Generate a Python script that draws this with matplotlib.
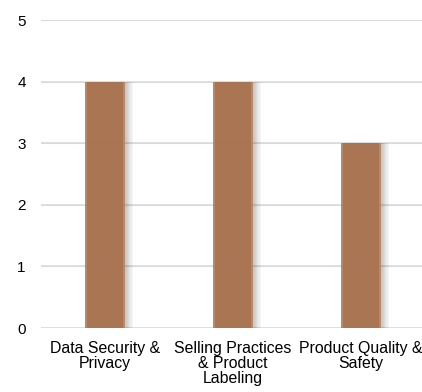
import matplotlib
matplotlib.use("Agg")
import matplotlib.pyplot as plt
import numpy as np

categories = ["Data Security &\nPrivacy", "Selling Practices\n& Product\nLabeling", "Product Quality &\nSafety"]
values = [4, 4, 3]
yticks = [0, 1, 2, 3, 4, 5]

plt.rcParams['font.family'] = ['Liberation Sans', 'DejaVu Sans']

fig = plt.figure(figsize=(4.22, 3.92), dpi=100)
ax = fig.add_axes([41/422, 64/392, 384/422, 308/392])
x = np.arange(len(categories))
w = 0.32

# shadow
for off in [0.008, 0.016, 0.026, 0.036, 0.048, 0.06]:
    ax.bar(x + off, values, width=w, color='#000000', alpha=0.035, zorder=1, linewidth=0)
ax.bar(x, values, width=w, color='#A97553', zorder=2, linewidth=0)
ax.bar(x - w/2 + 0.008, values, width=0.016, color='#B98866', zorder=3, linewidth=0)
ax.bar(x + w/2 - 0.008, values, width=0.016, color='#B98866', zorder=3, linewidth=0)

for yv in yticks:
    ax.axhline(yv, color='#DEDEDE', linewidth=1.3, zorder=0)
    ax.axhline(yv, color='#808080', linewidth=1.0, alpha=0.07, zorder=4)

ax.set_xlim(-0.5, 2.5)
ax.set_ylim(0, 5)
ax.set_yticks(yticks)
ax.set_xticks(x)
ax.set_xticklabels(categories, fontsize=11.4, linespacing=1.02)
ax.tick_params(axis='y', length=0, pad=11, labelsize=11)
ax.tick_params(axis='x', length=0, pad=9)
for s in ax.spines.values():
    s.set_visible(False)

fig.savefig("out.png", dpi=100)
